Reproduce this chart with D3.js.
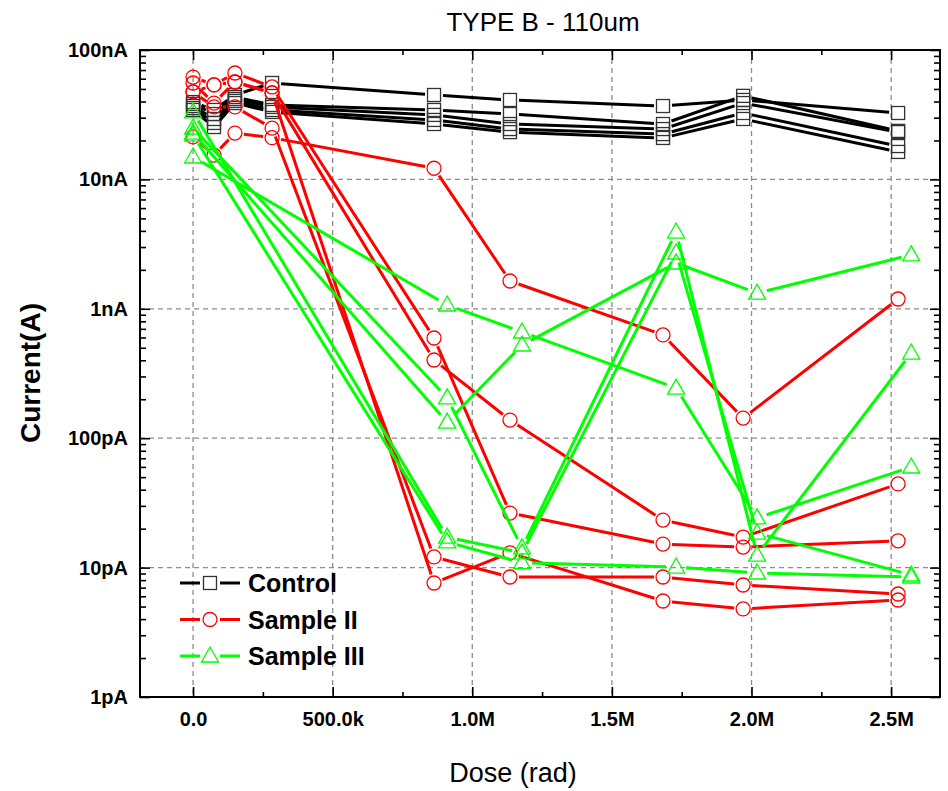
<!DOCTYPE html>
<html><head><meta charset="utf-8">
<script src="https://cdn.jsdelivr.net/npm/d3@7/dist/d3.min.js"></script>
<style>
body{margin:0;background:#fff;}
svg{display:block;}
text{font-family:"Liberation Sans",Arial,Helvetica,sans-serif;}
</style>
</head><body>
<svg id="chart" width="948" height="791"></svg>
<script>
// ---------- data ----------
const doseControl = [0, 75000, 150000, 283000, 863000, 1135000, 1683000, 1970000, 2525000];
const doseSampleII = [0, 75000, 150000, 283000, 863000, 1135000, 1683000, 1970000, 2525000];
const doseSampleIII = [0, 910000, 1178000, 1730000, 2020000, 2572000];

const control1 = [39.6e-9, 34.4e-9, 44.9e-9, 55.6e-9, 44.9e-9, 41.1e-9, 36.9e-9, 41.1e-9, 32.6e-9];
const control2 = [38.3e-9, 32.0e-9, 43.3e-9, 37.6e-9, 34.4e-9, 32.0e-9, 26.8e-9, 44.2e-9, 23.7e-9];
const control3 = [36.9e-9, 29.3e-9, 41.8e-9, 36.3e-9, 31.5e-9, 26.8e-9, 24.5e-9, 38.9e-9, 23.2e-9];
const control4 = [35.6e-9, 27.3e-9, 40.4e-9, 34.4e-9, 28.8e-9, 24.5e-9, 22.4e-9, 32.6e-9, 18.1e-9];
const control5 = [34.4e-9, 25.4e-9, 38.9e-9, 33.2e-9, 26.8e-9, 23.2e-9, 20.9e-9, 29.3e-9, 16.3e-9];

const sampleII1 = [61.8e-9, 53.7e-9, 66.4e-9, 51.8e-9, 595e-12, 26.4e-12, 15.2e-12, 14.4e-12, 16.1e-12];
const sampleII2 = [55.6e-9, 38.9e-9, 56.6e-9, 46.6e-9, 402e-12, 138e-12, 23.3e-12, 17.2e-12, 44.3e-12];
const sampleII3 = [47.4e-9, 36.3e-9, 36.3e-9, 24.9e-9, 12.1e-12, 8.46e-12, 8.46e-12, 7.34e-12, 6.25e-12];
const sampleII4 = [47.4e-9, 53.7e-9, 56.6e-9, 46.6e-9, 7.6e-12, 13.0e-12, 5.52e-12, 4.79e-12, 5.62e-12];
const sampleII5 = [21.3e-9, 15.4e-9, 22.8e-9, 21.0e-9, 12.2e-9, 1.64e-9, 628e-12, 143e-12, 1.19e-9];

const sampleIII1 = [14.9e-9, 1.07e-9, 662e-12, 244e-12, 24.2e-12, 59.9e-12];
const sampleIII2 = [22.8e-9, 133e-12, 525e-12, 2.26e-9, 1.32e-9, 2.61e-9];
const sampleIII3 = [24.9e-9, 205e-12, 14.2e-12, 3.92e-9, 12.5e-12, 455e-12];
const sampleIII4 = [33.2e-9, 17.2e-12, 13.0e-12, 2.70e-9, 18.5e-12, 8.77e-12];
const sampleIII5 = [22.0e-9, 15.8e-12, 10.9e-12, 10.1e-12, 9.08e-12, 8.46e-12];

const xTickValues = [0, 500000, 1000000, 1500000, 2000000, 2500000];
const xTickLabels = ["0.0", "500.0k", "1.0M", "1.5M", "2.0M", "2.5M"];
const xMinorTicks = [-250000, 250000, 750000, 1250000, 1750000, 2250000];
const yTickValues = [1e-12, 1e-11, 1e-10, 1e-9, 1e-8, 1e-7];
const yTickLabels = ["1pA", "10pA", "100pA", "1nA", "10nA", "100nA"];
const seriesNames = ["Control", "Sample II", "Sample III"];
const seriesColors = ["#000000", "#ff0000", "#00ff00"];
const chartTitle = "TYPE B - 110um";
const xTitle = "Dose (rad)";
const yTitle = "Current(A)";

// ---------- layout ----------
const pL = 140, pR = 940, pT = 50, pB = 697;
const svg = d3.select("#chart");
const x = d3.scaleLinear().domain([-190000, 2675000]).range([pL, pR]);
const y = d3.scaleLog().domain([1e-12, 1e-7]).range([pB, pT]);

// minor y ticks
const yMinor = [];
for (let e = -12; e < -7; e++) for (let m = 2; m <= 9; m++) yMinor.push(m * Math.pow(10, e));

// grid
const grid = svg.append("g").attr("stroke", "#8c8c8c").attr("stroke-width", 1.3).attr("stroke-dasharray", "5,4");
grid.selectAll("line.v").data(xTickValues).join("line").attr("class", "v")
  .attr("x1", d => x(d)).attr("x2", d => x(d)).attr("y1", pT).attr("y2", pB);
grid.selectAll("line.h").data(yTickValues.slice(1, -1)).join("line").attr("class", "h")
  .attr("x1", pL).attr("x2", pR).attr("y1", d => y(d)).attr("y2", d => y(d));

// axes
function styleAxis(g) {
  g.select(".domain").remove();
  g.selectAll(".tick line").attr("stroke", "#000").attr("stroke-width", 1.6);
  g.selectAll("text").attr("font-weight", "bold").attr("font-size", 20).attr("fill", "#000")
    .attr("font-family", "'Liberation Sans', Arial, sans-serif");
}
svg.append("g").attr("transform", `translate(0,${pB})`)
  .call(d3.axisBottom(x).tickValues(xTickValues).tickSize(-10).tickPadding(15)
    .tickFormat((d, i) => xTickLabels[i])).call(styleAxis);
svg.append("g").attr("transform", `translate(0,${pB})`)
  .call(d3.axisBottom(x).tickValues(xMinorTicks).tickSize(-5).tickFormat("")).call(styleAxis);
svg.append("g").attr("transform", `translate(0,${pT})`)
  .call(d3.axisTop(x).tickValues(xTickValues).tickSize(-10).tickFormat("")).call(styleAxis);
svg.append("g").attr("transform", `translate(0,${pT})`)
  .call(d3.axisTop(x).tickValues(xMinorTicks).tickSize(-5).tickFormat("")).call(styleAxis);
svg.append("g").attr("transform", `translate(${pL},0)`)
  .call(d3.axisLeft(y).tickValues(yTickValues).tickSize(-10).tickPadding(12)
    .tickFormat((d, i) => yTickLabels[i])).call(styleAxis);
svg.append("g").attr("transform", `translate(${pL},0)`)
  .call(d3.axisLeft(y).tickValues(yMinor).tickSize(-6).tickFormat("")).call(styleAxis);
svg.append("g").attr("transform", `translate(${pR},0)`)
  .call(d3.axisRight(y).tickValues(yTickValues).tickSize(-10).tickFormat("")).call(styleAxis);
svg.append("g").attr("transform", `translate(${pR},0)`)
  .call(d3.axisRight(y).tickValues(yMinor).tickSize(-6).tickFormat("")).call(styleAxis);

// frame
svg.append("rect").attr("x", pL).attr("y", pT).attr("width", pR - pL).attr("height", pB - pT)
  .attr("fill", "none").attr("stroke", "#000").attr("stroke-width", 2);

// ---------- series ----------
const groups = [
  {name: seriesNames[0], color: seriesColors[0], shape: "square", dose: doseControl,
   lines: [control1, control2, control3, control4, control5]},
  {name: seriesNames[1], color: seriesColors[1], shape: "circle", dose: doseSampleII,
   lines: [sampleII1, sampleII2, sampleII3, sampleII4, sampleII5]},
  {name: seriesNames[2], color: seriesColors[2], shape: "triangle", dose: doseSampleIII,
   lines: [sampleIII1, sampleIII2, sampleIII3, sampleIII4, sampleIII5]}
];
const gapR = {square: 9, circle: 9, triangle: 10};

function drawMarker(g, shape, cx, cy, color) {
  if (shape === "square") {
    g.append("rect").attr("x", cx - 6.5).attr("y", cy - 6.5).attr("width", 13).attr("height", 13)
      .attr("fill", "none").attr("stroke", "#333").attr("stroke-width", 1.3);
  } else if (shape === "circle") {
    g.append("circle").attr("cx", cx).attr("cy", cy).attr("r", 7)
      .attr("fill", "none").attr("stroke", color).attr("stroke-width", 1.3);
  } else {
    g.append("path").attr("d", `M${cx},${cy - 9}L${cx + 8.5},${cy + 6}L${cx - 8.5},${cy + 6}Z`)
      .attr("fill", "none").attr("stroke", color).attr("stroke-width", 1.3);
  }
}

function drawSeries(g, pts, color, shape) {
  const gap = gapR[shape];
  for (let i = 0; i < pts.length - 1; i++) {
    const [x1, y1] = pts[i], [x2, y2] = pts[i + 1];
    const dx = x2 - x1, dy = y2 - y1, len = Math.hypot(dx, dy);
    if (len <= 2 * gap) continue;
    const ux = dx / len, uy = dy / len;
    g.append("line")
      .attr("x1", x1 + ux * gap).attr("y1", y1 + uy * gap)
      .attr("x2", x2 - ux * gap).attr("y2", y2 - uy * gap)
      .attr("stroke", color).attr("stroke-width", 3).attr("stroke-linecap", "butt");
  }
  pts.forEach(p => drawMarker(g, shape, p[0], p[1], color));
}

const plot = svg.append("g");
groups.forEach(grp => {
  grp.lines.forEach(vals => {
    const pts = vals.map((v, i) => [x(grp.dose[i]), y(v)]);
    drawSeries(plot, pts, grp.color, grp.shape);
  });
});

// ---------- legend ----------
const legend = svg.append("g");
groups.forEach((grp, i) => {
  const ly = 583 + i * 36.5;
  const gl = legend.append("g");
  gl.append("line").attr("x1", 180).attr("x2", 200).attr("y1", ly).attr("y2", ly)
    .attr("stroke", grp.color).attr("stroke-width", 3);
  gl.append("line").attr("x1", 220).attr("x2", 240).attr("y1", ly).attr("y2", ly)
    .attr("stroke", grp.color).attr("stroke-width", 3);
  drawMarker(gl, grp.shape, 210, ly, grp.color);
  gl.append("text").attr("x", 248).attr("y", ly).attr("dy", "0.36em")
    .attr("font-size", 25).attr("font-weight", "bold").text(grp.name);
});

// ---------- titles ----------
svg.append("text").attr("x", 543).attr("y", 31).attr("text-anchor", "middle")
  .attr("font-size", 26).text(chartTitle);
svg.append("text").attr("x", 513).attr("y", 782).attr("text-anchor", "middle")
  .attr("font-size", 27).text(xTitle);
svg.append("text").attr("transform", "translate(40,373) rotate(-90)").attr("text-anchor", "middle")
  .attr("font-size", 28).attr("font-weight", "bold").text(yTitle);
</script>
</body></html>
